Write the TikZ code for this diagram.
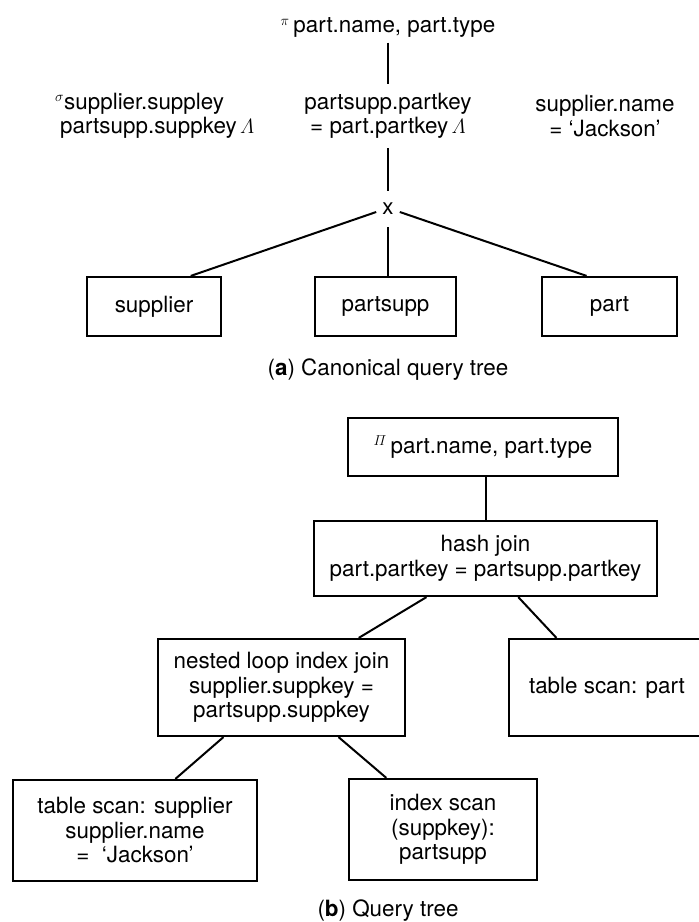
\documentclass[tikz,border=0pt]{standalone}
\usepackage{amsmath}
\usepackage[no-math]{fontspec}
\setmainfont{TeX Gyre Heros}
\usetikzlibrary{calc}
\begin{document}
\begin{tikzpicture}[x=1pt,y=-1pt,
  every node/.style={font=\fontsize{22.4}{24.5}\selectfont, inner sep=0pt},
  link/.style={line width=2pt},
  opbox/.style={draw, line width=2.2pt, align=center},
  relbox/.style={opbox, minimum height=59pt},
  cond/.style={align=center, inner ysep=9pt}]
\useasboundingbox (0,0) rectangle (699,922);
\clip (0,0) rectangle (699,922);

% ---------- (a) canonical query tree ----------
\node[inner ysep=5pt] (proj) at (388,27.5) {$^{\pi}$\,part.name, part.type};
\node[cond, align=left, anchor=west] (selL) at (55,116)
  {$^{\sigma}$supplier.suppley\\\hspace*{5pt}partsupp.suppkey$\,\varLambda$};
\node[cond] (selM) at (388,116) {partsupp.partkey\\= part.partkey$\,\varLambda$};
\node[cond] (selR) at (605,116) {supplier.name\\= `Jackson'};
\node[inner xsep=6pt, inner ysep=12pt] (cross) at (388,209) {x};

\node[relbox, minimum width=134pt] (rsup)  at (154,306.5)   {supplier};
\node[relbox, minimum width=141pt] (rps)   at (385.5,306.5) {partsupp};
\node[relbox, minimum width=135pt] (rpart) at (609.5,306.5) {part};

\node (capa) at (388,370) {(\textbf{a}) Canonical query tree};

\draw[link] (selM.north |- proj.south) -- (selM.north);
\draw[link] (selM.south) -- (cross.north);
\draw[link] ([yshift=-3pt]cross.west) -- ($(rsup.north west)!0.77!(rsup.north east)$);
\draw[link] (cross.south) -- (cross.south |- rps.north);
\draw[link] ([yshift=-3pt]cross.east) -- ($(rpart.north west)!0.333!(rpart.north east)$);

% ---------- (b) query tree ----------
\node[opbox, minimum width=270pt, minimum height=58pt] (top) at (483,447)
  {$^{\varPi}$\,part.name, part.type};
\node[opbox, minimum width=343pt, minimum height=75pt] (hash) at (485.5,558.5)
  {hash join\\part.partkey = partsupp.partkey};
\node[opbox, minimum width=247pt, minimum height=97pt] (nlj) at (281.5,687.5)
  {nested loop index join\\supplier.suppkey =\\partsupp.suppkey};
\node[opbox, minimum width=196pt, minimum height=97pt] (tsp) at (607,687.5)
  {table scan: part};
\node[opbox, minimum width=244pt, minimum height=101pt] (tss) at (135,830.5)
  {table scan: supplier\\supplier.name\\=\ \ `Jackson'};
\node[opbox, minimum width=188pt, minimum height=101pt] (isc) at (443,829.5)
  {index scan\\(suppkey):\\partsupp};

\node (capb) at (388,911) {(\textbf{b}) Query tree};

\coordinate (topfoot) at ($(top.south west)!0.511!(top.south east)$);
\draw[link] (topfoot) -- (topfoot |- hash.north);
\draw[link] ($(hash.south west)!0.329!(hash.south east)$) -- ($(nlj.north west)!0.81!(nlj.north east)$);
\draw[link] ($(hash.south west)!0.595!(hash.south east)$) -- ($(tsp.north west)!0.245!(tsp.north east)$);
\draw[link] ($(nlj.south west)!0.267!(nlj.south east)$) -- ($(tss.north west)!0.664!(tss.north east)$);
\draw[link] ($(nlj.south west)!0.729!(nlj.south east)$) -- ($(isc.north west)!0.202!(isc.north east)$);
\end{tikzpicture}
\end{document}
